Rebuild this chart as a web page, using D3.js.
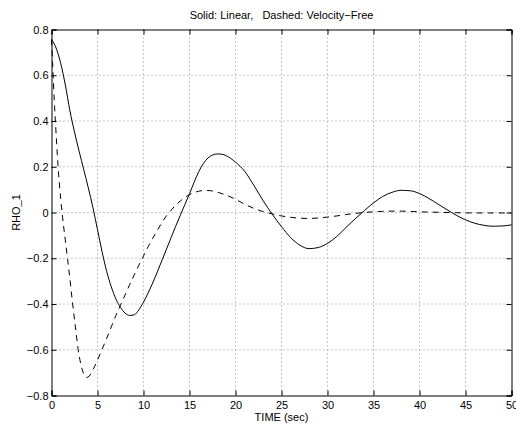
<!DOCTYPE html>
<html>
<head>
<meta charset="utf-8">
<script src="https://cdn.jsdelivr.net/npm/d3@7"></script>
<style>
  html, body { margin: 0; padding: 0; background: #fff; }
  svg { display: block; font-family: "Liberation Sans", Arial, Helvetica, sans-serif; }
</style>
</head>
<body>
<svg id="rho_svg" width="516" height="426"></svg>
<script>
/**
 * Values.
 */
const title_text = "Solid: Linear,   Dashed: Velocity\u2212Free"
const x_label_text = "TIME (sec)"
const y_label_text = "RHO_1"

const x_ticks = [0, 5, 10, 15, 20, 25, 30, 35, 40, 45, 50]
const y_ticks = [-0.8, -0.6, -0.4, -0.2, 0, 0.2, 0.4, 0.6, 0.8]

// solid: linear model
const linear_time = [0, 0.5, 1, 1.5, 2, 2.5, 3, 3.5, 4, 4.5, 5, 5.5, 6, 6.5, 7, 7.5, 8, 8.5, 9, 9.5,
  10, 10.5, 11, 11.5, 12, 12.5, 13, 13.5, 14, 14.5, 15, 15.5, 16, 16.5, 17, 17.5, 18, 18.5, 19, 19.5,
  20, 21, 22, 23, 24, 25, 26, 27, 28, 29, 30, 31, 32, 33, 34, 35, 36, 37, 38, 39,
  40, 41, 42, 43, 44, 45, 46, 47, 48, 49, 50]
const linear_rho = [0.757, 0.719, 0.652, 0.558, 0.445, 0.352, 0.268, 0.188, 0.108, 0.022, -0.075, -0.172, -0.258, -0.325, -0.378, -0.415, -0.44, -0.45, -0.447, -0.425,
  -0.392, -0.352, -0.308, -0.26, -0.21, -0.16, -0.11, -0.06, -0.012, 0.035, 0.082, 0.132, 0.178, 0.214, 0.238, 0.251, 0.256, 0.255, 0.248, 0.236,
  0.22, 0.18, 0.118, 0.052, -0.008, -0.062, -0.11, -0.143, -0.158, -0.153, -0.135, -0.105, -0.066, -0.028, 0.008, 0.042, 0.07, 0.088, 0.097, 0.095,
  0.083, 0.062, 0.037, 0.012, -0.012, -0.032, -0.047, -0.056, -0.06, -0.059, -0.054]

// dashed: velocity-free model
const vfree_time = [0, 0.1, 0.2, 0.3, 0.45, 0.7, 1, 1.2, 1.5, 1.75, 2, 2.3, 2.6, 2.9, 3.2, 3.5, 3.8, 4.1, 4.5,
  5, 5.5, 6, 6.5, 7, 7.5, 8, 8.5, 9, 9.5, 10, 10.5, 11, 11.5, 12, 12.5, 13, 13.5, 14, 14.5,
  15, 15.5, 16, 16.5, 17, 17.5, 18, 19, 20, 21, 22, 23, 24, 25, 26, 27, 28, 29,
  30, 31, 32, 33, 34, 35, 36, 37, 38, 39, 40, 42, 44, 46, 48, 50]
const vfree_rho = [0.757, 0.67, 0.58, 0.49, 0.38, 0.21, 0.06, -0.02, -0.12, -0.205, -0.29, -0.4, -0.5, -0.6, -0.665, -0.705, -0.721, -0.715, -0.688,
  -0.645, -0.598, -0.55, -0.5, -0.45, -0.405, -0.36, -0.315, -0.272, -0.23, -0.19, -0.15, -0.113, -0.078, -0.045, -0.014, 0.01, 0.032, 0.05, 0.066,
  0.078, 0.087, 0.093, 0.096, 0.096, 0.094, 0.089, 0.076, 0.058, 0.036, 0.018, 0.004, -0.006, -0.015, -0.021, -0.025, -0.026, -0.024,
  -0.02, -0.015, -0.009, -0.004, 0, 0.003, 0.005, 0.006, 0.006, 0.005, 0.003, 0.001, -0.001, -0.002, -0.002, -0.002]

/**
 * Margins of the plot box.
 */
const margin = { top: 29.5, left: 51.5, right: 4.5, bottom: 30.5 }

let svg = d3.select("#rho_svg")
let width = +svg.attr("width") - margin.left - margin.right
let height = +svg.attr("height") - margin.top - margin.bottom

let g = svg.append("g")
  .attr("transform", "translate(" + margin.left + "," + margin.top + ")")

/**
 * Scales
 */
const xScale = d3.scaleLinear().domain([0, 50]).range([0, width])
const yScale = d3.scaleLinear().domain([-0.8, 0.8]).range([height, 0])

const fmt = d => (d < 0 ? "\u2212" : "") + d3.format("")(Math.abs(+d.toFixed(1)))

/**
 * Dotted grid
 */
g.selectAll(".grid_x").data(x_ticks.slice(1, -1))
  .enter().append("line")
  .attr("class", "grid_x")
  .attr("x1", d => xScale(d)).attr("x2", d => xScale(d))
  .attr("y1", 0).attr("y2", height)
  .attr("stroke", "#777").attr("stroke-width", 0.8)
  .attr("stroke-dasharray", "1,3")

g.selectAll(".grid_y").data(y_ticks.slice(1, -1))
  .enter().append("line")
  .attr("class", "grid_y")
  .attr("x1", 0).attr("x2", width)
  .attr("y1", d => yScale(d)).attr("y2", d => yScale(d))
  .attr("stroke", "#777").attr("stroke-width", 0.8)
  .attr("stroke-dasharray", "1,3")

/**
 * Axes, ticks inward on all four sides
 */
const tickLen = 5
let x_bottom = d3.axisBottom(xScale).tickValues(x_ticks).tickSize(-tickLen).tickPadding(6).tickFormat(d3.format("d"))
let x_top = d3.axisTop(xScale).tickValues(x_ticks).tickSize(-tickLen).tickFormat("")
let y_left = d3.axisLeft(yScale).tickValues(y_ticks).tickSize(-tickLen).tickPadding(3).tickFormat(fmt)
let y_right = d3.axisRight(yScale).tickValues(y_ticks).tickSize(-tickLen).tickFormat("")

g.append("g").attr("transform", "translate(0," + height + ")").call(x_bottom)
g.append("g").call(x_top)
g.append("g").call(y_left)
g.append("g").attr("transform", "translate(" + width + ",0)").call(y_right)

g.selectAll(".domain").attr("stroke", "#000").attr("stroke-width", 1)
g.selectAll(".tick line").attr("stroke", "#000")
g.selectAll(".tick text")
  .attr("fill", "#000")
  .style("font-size", "11px")
  .style("font-family", "'Liberation Sans', Arial, sans-serif")

/**
 * Curves
 */
const line = d3.line()
  .x(d => xScale(d[0]))
  .y(d => yScale(d[1]))
  .curve(d3.curveMonotoneX)

const linear_pts = linear_time.map((t, i) => [t, linear_rho[i]])
const vfree_pts = vfree_time.map((t, i) => [t, vfree_rho[i]])

g.append("path")
  .datum(vfree_pts)
  .attr("d", line)
  .attr("fill", "none")
  .attr("stroke", "#000")
  .attr("stroke-width", 1)
  .attr("stroke-dasharray", "6,5")

g.append("path")
  .datum(linear_pts)
  .attr("d", line)
  .attr("fill", "none")
  .attr("stroke", "#000")
  .attr("stroke-width", 1)

/**
 * Labels
 */
svg.append("text")
  .attr("x", margin.left + width / 2)
  .attr("y", 19)
  .attr("text-anchor", "middle")
  .style("font-size", "11px")
  .style("white-space", "pre")
  .text(title_text)

svg.append("text")
  .attr("x", margin.left + width / 2)
  .attr("y", 421)
  .attr("text-anchor", "middle")
  .style("font-size", "11px")
  .text(x_label_text)

svg.append("text")
  .attr("transform", "translate(20," + (margin.top + height / 2) + ") rotate(-90)")
  .attr("text-anchor", "middle")
  .style("font-size", "11px")
  .text(y_label_text)
</script>
</body>
</html>
